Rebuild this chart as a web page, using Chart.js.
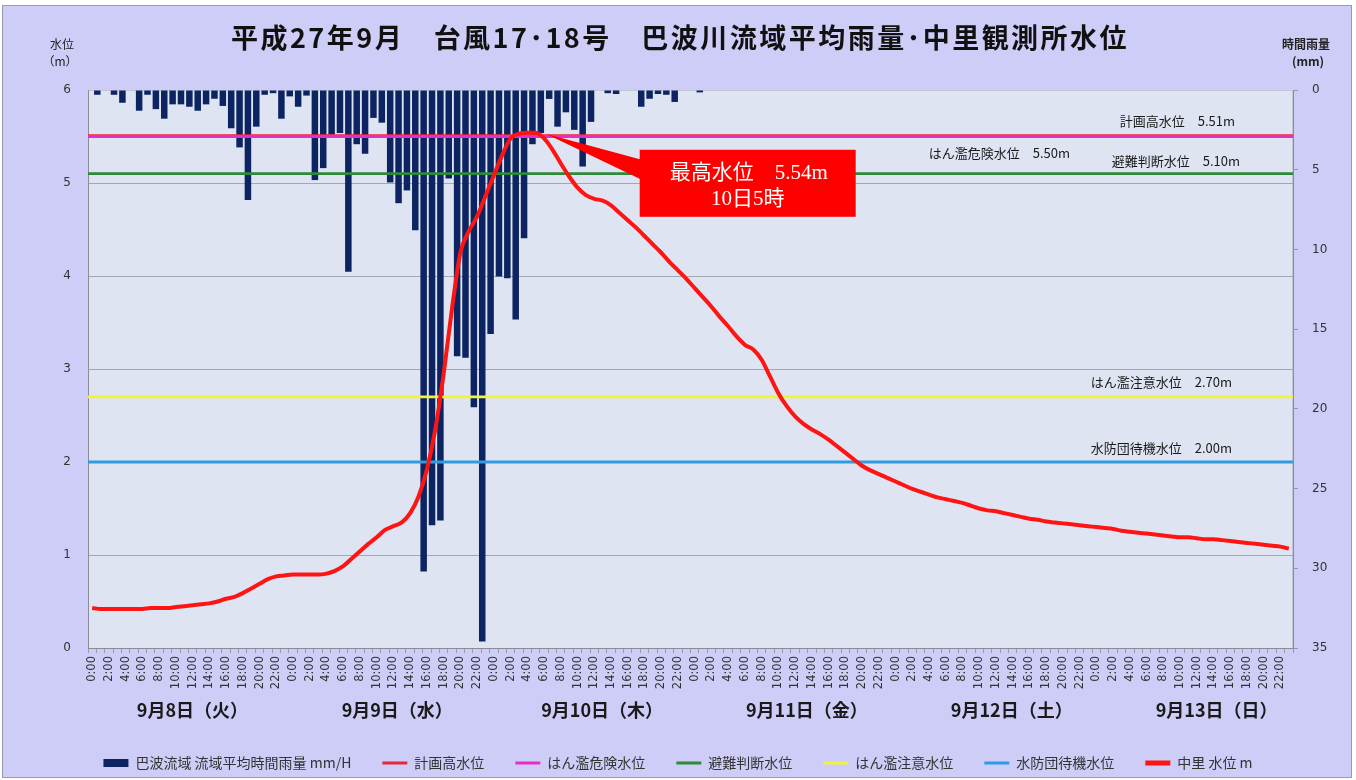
<!DOCTYPE html>
<html><head><meta charset="utf-8">
<script src="https://cdn.jsdelivr.net/npm/chart.js@4.4.1/dist/chart.umd.min.js"></script>
<style>html,body{margin:0;padding:0;background:#fff;}canvas{display:block;}</style>
</head><body>
<canvas id="c" width="1356" height="780"></canvas>
<script>
// ---------------- data ----------------
const chartTitle = '平成27年9月　台風17･18号　巴波川流域平均雨量･中里観測所水位';
const hours = ['0:00','1:00','2:00','3:00','4:00','5:00','6:00','7:00','8:00','9:00','10:00','11:00',
  '12:00','13:00','14:00','15:00','16:00','17:00','18:00','19:00','20:00','21:00','22:00','23:00'];
const days = ['9月8日（火）','9月9日（水）','9月10日（木）','9月11日（金）','9月12日（土）','9月13日（日）'];

// hourly basin-average rainfall (mm/H)
const rainfall = [
  0,0.3,0,0.3,0.8,0,1.3,0.3,1.2,1.8,0.9,0.9,1.05,1.3,0.9,0.55,1.0,2.4,3.6,6.9,2.3,0.3,0.2,1.8,
  0.4,1.05,0.35,5.65,4.9,2.8,2.7,11.4,3.4,4.0,1.75,2.05,5.8,7.1,6.3,8.8,30.2,27.3,27.0,5.55,16.7,16.8,19.9,34.6,
  15.3,11.7,11.8,14.4,9.3,3.4,2.7,0.56,2.3,1.4,2.5,4.8,2.0,0,0.2,0.25,0,0,1.05,0.55,0.25,0.3,0.75,0,
  0,0.15,0,0,0,0,0,0,0,0,0,0,0,0,0,0,0,0,0,0,0,0,0,0,
  0,0,0,0,0,0,0,0,0,0,0,0,0,0,0,0,0,0,0,0,0,0,0,0,
  0,0,0,0,0,0,0,0,0,0,0,0,0,0,0,0,0,0,0,0,0,0,0,0
];
// water level at Nakazato (m)
const waterLevel = [
  0.43,0.42,0.42,0.42,0.42,0.42,0.42,0.43,0.43,0.43,0.44,0.45,0.46,0.47,0.48,0.50,0.53,0.55,0.59,0.64,0.69,0.74,0.77,0.78,
  0.79,0.79,0.79,0.79,0.80,0.83,0.88,0.96,1.04,1.12,1.19,1.27,1.31,1.35,1.45,1.63,1.92,2.35,2.95,3.65,4.25,4.48,4.64,4.86,
  5.08,5.30,5.48,5.53,5.54,5.54,5.48,5.36,5.21,5.07,4.95,4.87,4.83,4.81,4.76,4.68,4.60,4.52,4.43,4.34,4.25,4.15,4.06,3.97,
  3.87,3.77,3.67,3.56,3.46,3.35,3.26,3.21,3.10,2.92,2.74,2.60,2.49,2.41,2.35,2.30,2.24,2.17,2.10,2.03,1.96,1.91,1.87,1.83,
  1.79,1.75,1.71,1.68,1.65,1.62,1.60,1.58,1.56,1.53,1.50,1.48,1.47,1.45,1.43,1.41,1.39,1.38,1.36,1.35,1.34,1.33,1.32,1.31,
  1.30,1.29,1.28,1.26,1.25,1.24,1.23,1.22,1.21,1.20,1.19,1.19,1.18,1.17,1.17,1.16,1.15,1.14,1.13,1.12,1.11,1.10,1.09,1.07
];
const levelNames = ['計画高水位','はん濫危険水位','避難判断水位','はん濫注意水位','水防団待機水位'];
const levelValues = [5.51, 5.50, 5.10, 2.70, 2.00];
const levelTags = ['計画高水位　5.51m','はん濫危険水位　5.50m','避難判断水位　5.10m','はん濫注意水位　2.70m','水防団待機水位　2.00m'];
const peakIndex = 53;
const peakText = ['最高水位　5.54m', '10日5時'];
const rainLabel = '巴波流域 流域平均時間雨量 mm/H';
const levelLabel = '中里 水位 m';

// ---------------- styles ----------------
const levelColors = ['#e4283a','#e82ccb','#2e8a3a','#f2f23a','#2f9ce0'];
const categories = days.flatMap(() => hours);
const CJK = '"Noto Sans CJK JP","Noto Sans",sans-serif';

const decor = {
  id: 'decor',
  beforeDraw(chart) {
    const {ctx, chartArea: a} = chart;
    ctx.save();
    ctx.fillStyle = '#ffffff';
    ctx.fillRect(0, 0, chart.width, chart.height);
    ctx.fillStyle = '#cdcdf8';
    ctx.fillRect(2, 5, chart.width - 6, chart.height - 7);
    ctx.strokeStyle = '#9a9aa8';
    ctx.lineWidth = 1;
    ctx.strokeRect(2.5, 5.5, chart.width - 7, chart.height - 8);
    ctx.fillStyle = '#dfe4f2';
    ctx.fillRect(a.left, a.top, a.right - a.left, a.bottom - a.top);
    ctx.strokeStyle = '#c4c6d4';
    ctx.strokeRect(a.left + 0.5, a.top + 0.5, a.right - a.left - 1, a.bottom - a.top);
    // title
    ctx.fillStyle = '#111';
    ctx.font = 'bold 27px ' + CJK;
    ctx.textAlign = 'center';
    ctx.textBaseline = 'middle';
    const w = ctx.measureText(chartTitle).width;
    const n = [...chartTitle].length;
    ctx.letterSpacing = ((898 - w) / n).toFixed(2) + 'px';
    ctx.fillText(chartTitle, chart.width / 2 + 2, 38);
    ctx.letterSpacing = '0px';
    // axis titles
    ctx.font = '12px ' + CJK;
    ctx.fillStyle = '#222';
    ctx.fillText('水位', 62, 44);
    ctx.fillText('（m）', 60, 61);
    ctx.font = 'bold 12px ' + CJK;
    ctx.fillText('時間雨量', 1306, 44);
    ctx.fillText('(mm)', 1308, 61);
    ctx.restore();
  },
  afterDatasetsDraw(chart) {
    const {ctx, chartArea: a, scales} = chart;
    const y = scales.y, x = scales.x;
    ctx.save();
    // threshold tags
    ctx.font = '13px ' + CJK;
    ctx.fillStyle = '#1a1a1a';
    ctx.textAlign = 'right';
    ctx.textBaseline = 'middle';
    const tagPos = [[a.right - 58, -15], [a.right - 223, 17], [a.right - 53, -13], [a.right - 61, -15], [a.right - 61, -14]];
    levelTags.forEach((t, i) => {
      ctx.fillText(t, tagPos[i][0], y.getPixelForValue(levelValues[i]) + tagPos[i][1]);
    });
    // day labels
    ctx.font = 'bold 18px ' + CJK;
    ctx.textAlign = 'center';
    ctx.fillStyle = '#1a1a1a';
    days.forEach((d, i) => {
      ctx.fillText(d, x.getPixelForValue(i * 24 + 11.5) + i * 4 + 4, 710);
    });
    // callout
    const meta = chart.getDatasetMeta(chart.data.datasets.length - 1);
    const p = meta.data[peakIndex];
    const bx = p.x + 104, by = p.y + 17, bw = 216, bh = 67;
    ctx.fillStyle = '#ff0000';
    ctx.beginPath();
    ctx.moveTo(p.x + 10, p.y + 1);
    ctx.lineTo(bx + 2, by + 10);
    ctx.lineTo(bx + 2, by + 30);
    ctx.closePath();
    ctx.fill();
    ctx.fillRect(bx, by, bw, bh);
    ctx.fillStyle = '#ffffff';
    ctx.font = '21px "Liberation Serif",' + CJK;
    ctx.fillText(peakText[0], bx + bw / 2 + 1, by + 24);
    ctx.fillText(peakText[1], bx + bw / 2, by + 50);
    ctx.restore();
  }
};

const datasets = [
  {type: 'bar', label: rainLabel, data: rainfall, xAxisID: 'x', yAxisID: 'yr',
   backgroundColor: '#0c2461', barThickness: 6.5, inflateAmount: 0, borderWidth: 0, order: 10}
];
levelNames.forEach((n, i) => {
  datasets.push({type: 'line', label: n, data: [{x: 0, y: levelValues[i]}, {x: 1, y: levelValues[i]}],
    xAxisID: 'xl', yAxisID: 'y', borderColor: levelColors[i], backgroundColor: levelColors[i],
    borderWidth: 2.8, pointRadius: 0, order: 9 - i});
});
datasets.push({type: 'line', label: levelLabel, data: waterLevel, xAxisID: 'x', yAxisID: 'y',
  borderColor: '#ff1414', backgroundColor: '#ff1414', borderWidth: 4, pointRadius: 0,
  cubicInterpolationMode: 'monotone', order: 1});

new Chart(document.getElementById('c'), {
  type: 'bar',
  data: {labels: categories, datasets},
  options: {
    responsive: false, animation: false, devicePixelRatio: 1,
    layout: {padding: {top: 90, left: 0, right: 0, bottom: 0}},
    plugins: {
      title: {display: false},
      tooltip: {enabled: false},
      legend: {
        position: 'bottom',
        labels: {
          font: {size: 14, family: CJK}, color: '#333', padding: 31,
          usePointStyle: true, pointStyleWidth: 25, boxHeight: 8,
          sort: (a, b) => a.datasetIndex - b.datasetIndex,
          generateLabels(chart) {
            const items = Chart.defaults.plugins.legend.labels.generateLabels(chart);
            items.forEach(it => {
              const ds = chart.data.datasets[it.datasetIndex];
              if (ds.type === 'bar') {
                it.pointStyle = 'rect'; it.lineWidth = 0;
                it.fillStyle = ds.backgroundColor; it.strokeStyle = ds.backgroundColor;
              } else {
                it.pointStyle = 'line'; it.lineWidth = ds.label === levelLabel ? 5 : 3;
                it.strokeStyle = ds.borderColor; it.fillStyle = ds.borderColor;
              }
            });
            return items;
          }
        }
      }
    },
    scales: {
      x: {
        type: 'category', offset: true,
        afterFit(s) { s.height = 780 - 648 - (s.chart.legend ? s.chart.legend.height : 56); },
        grid: {display: true, drawOnChartArea: false, drawTicks: true, tickLength: 5, color: '#9a9aa6'},
        border: {color: '#8c8c96'},
        ticks: {autoSkip: false, maxRotation: 90, minRotation: 90, padding: 3, color: '#333',
          font: {size: 11.5, family: '"DejaVu Sans"'},
          callback: (v, i) => (i % 2 === 0 ? categories[i] : '')}
      },
      xl: {type: 'linear', min: 0, max: 1, display: false, offset: false, bounds: 'data'},
      y: {
        position: 'left', min: 0, max: 6,
        afterFit(s) { s.width = 88; },
        grid: {color: (c) => (c.tick && c.tick.value === 6 ? '#c4c6d4' : '#a4a6b0'), drawTicks: false},
        border: {color: '#8c8c96'},
        ticks: {stepSize: 1, padding: 17, color: '#333', font: {size: 12, family: '"DejaVu Sans"'}}
      },
      yr: {
        position: 'right', min: 0, max: 35, reverse: true,
        afterFit(s) { s.width = 63; },
        grid: {drawOnChartArea: false, drawTicks: true, tickLength: 5, color: '#9a9aa6'},
        border: {color: '#8c8c96'},
        ticks: {stepSize: 5, padding: 14, color: '#333', font: {size: 12, family: '"DejaVu Sans"'}}
      }
    }
  },
  plugins: [decor]
});
</script>
</body></html>
